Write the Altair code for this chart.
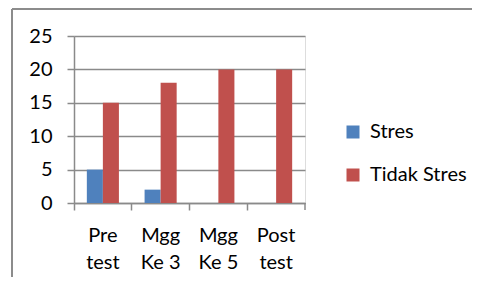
import altair as alt
import pandas as pd

categories = ["Pre test", "Mgg Ke 3", "Mgg Ke 5", "Post test"]
series = ["Stres", "Tidak Stres"]
stres = [5, 2, 0, 0]
tidak_stres = [15, 18, 20, 20]
colors = ["#4F81BD", "#C0504D"]

rows = []
for i, c in enumerate(categories):
    rows.append({"kategori": c, "seri": series[0], "nilai": stres[i]})
    rows.append({"kategori": c, "seri": series[1], "nilai": tidak_stres[i]})
df = pd.DataFrame(rows)

W, H = 231, 167
FONT = "Lato"
GRID = "#8a8a8a"

label_expr = ("[slice(datum.label, 0, indexof(datum.label, ' ')), "
              "slice(datum.label, indexof(datum.label, ' ') + 1)]")

bars = alt.Chart(df).mark_bar().encode(
    x=alt.X("kategori:N", sort=categories, title=None,
            scale=alt.Scale(paddingInner=0, paddingOuter=0),
            axis=alt.Axis(bandPosition=0, labelAngle=0, labelExpr=label_expr,
                          labelFont=FONT, labelFontSize=20, labelColor="#000",
                          labelLineHeight=27, labelPadding=15,
                          tickColor=GRID, tickWidth=1.5, tickSize=7,
                          domainColor=GRID, domainWidth=1.5, grid=False)),
    xOffset=alt.XOffset("seri:N", sort=series,
                        scale=alt.Scale(paddingInner=0, paddingOuter=0.8)),
    y=alt.Y("nilai:Q", title=None,
            scale=alt.Scale(domain=[0, 25], nice=False),
            axis=alt.Axis(values=[0, 5, 10, 15, 20, 25], labelFont=FONT,
                          labelFontSize=20, labelColor="#000", labelPadding=15,
                          tickColor=GRID, tickWidth=1.5, tickSize=7,
                          domainColor=GRID, domainWidth=1.5,
                          gridColor=GRID, gridWidth=1.5)),
    color=alt.Color("seri:N", sort=series,
                    scale=alt.Scale(domain=series, range=colors),
                    legend=alt.Legend(title=None, orient="none",
                                      legendX=269, legendY=86,
                                      symbolType="square", symbolSize=169,
                                      symbolStrokeWidth=0,
                                      labelFont=FONT, labelFontSize=20,
                                      labelColor="#000", labelOffset=7,
                                      rowPadding=23, padding=0)),
)

end_tick = alt.Chart(pd.DataFrame({"k": [0]})).mark_rule(
    color=GRID, strokeWidth=1.5).encode(
    x=alt.value(W), y=alt.value(H), y2=alt.value(H + 7))

border_left = alt.Chart(pd.DataFrame({"k": [0]})).mark_rule(
    color="#8c8c8c", strokeWidth=2).encode(
    x=alt.value(-62), y=alt.value(-27), y2=alt.value(300))

border_top = alt.Chart(pd.DataFrame({"k": [0]})).mark_rule(
    color="#8c8c8c", strokeWidth=2).encode(
    x=alt.value(-62), x2=alt.value(420), y=alt.value(-27))

chart = alt.layer(bars, end_tick, border_left, border_top).properties(
    width=W, height=H,
    autosize=alt.AutoSizeParams(type="none"),
    padding={"left": 66, "top": 28, "right": 167, "bottom": 74},
).configure_view(stroke=None).configure(background="white")

chart.save("out.html", embed_options={"renderer": "svg", "actions": False})
